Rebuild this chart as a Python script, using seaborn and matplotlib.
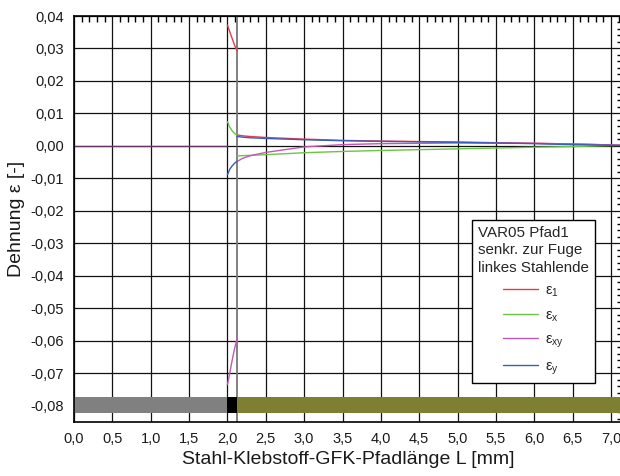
import numpy as np
import pandas as pd
import matplotlib
matplotlib.use("Agg")
import matplotlib.pyplot as plt
from matplotlib.ticker import MultipleLocator, FuncFormatter
from matplotlib.lines import Line2D
import seaborn as sns

# ---------------- data ----------------
x_steel = [0.0, 2.0]
x_adh = [2.0, 2.03, 2.06, 2.09, 2.125]
x_gfk = [2.125, 2.2, 2.3, 2.5, 3.0, 3.5, 4.0, 5.0, 6.0, 6.5, 7.0, 7.15]

e1_steel = [0.0, 0.0]
e1_adh = [0.0372, 0.0352, 0.0332, 0.0312, 0.0293]
e1_gfk = [0.0034, 0.0031, 0.0029, 0.0026, 0.0021, 0.0017, 0.0015, 0.0012, 0.0008, 0.0006, 0.0003, 0.0002]

ex_steel = [0.0, 0.0]
ex_adh = [0.0075, 0.0058, 0.0047, 0.0039, 0.0034]
ex_gfk = [-0.0031, -0.0030, -0.0029, -0.0027, -0.0021, -0.0017, -0.0014, -0.0009, -0.0004, -0.0002, 0.0001, 0.0002]

exy_steel = [0.0, 0.0]
exy_adh = [-0.0735, -0.0700, -0.0662, -0.0627, -0.0594]
exy_gfk = [-0.0048, -0.0038, -0.0030, -0.0020, -0.0003, 0.0004, 0.0007, 0.0009, 0.0008, 0.0006, 0.0003, 0.0002]

ey_steel = [0.0, 0.0]
ey_adh = [-0.0089, -0.0072, -0.0062, -0.0054, -0.0047]
ey_gfk = [0.0029, 0.0027, 0.0025, 0.0023, 0.0019, 0.0016, 0.0014, 0.0011, 0.0007, 0.0004, 0.0002, 0.0001]

series_names = ["e1", "ex", "exy", "ey"]
series_labels = ["ε$_{\\mathrm{1}}$", "ε$_{\\mathrm{x}}$", "ε$_{\\mathrm{xy}}$", "ε$_{\\mathrm{y}}$"]
series_colors = ["#e63a4c", "#6cc444", "#c058b4", "#3a5cbc"]

# material bar along the path
seg_start = [0.0, 2.0, 2.125]
seg_end = [2.0, 2.125, 7.15]
seg_colors = ["#808080", "#000000", "#7f7f33"]
bar_top = -0.0772
bar_bottom = -0.0822

x_ticks = np.arange(0.0, 7.01, 0.5)
y_ticks = np.arange(-0.08, 0.0401, 0.01)

legend_title = "VAR05 Pfad1\nsenkr. zur Fuge\nlinkes Stahlende"
x_label = "Stahl-Klebstoff-GFK-Pfadlänge L [mm]"
y_label = "Dehnung ε [-]"

# ---------------- build long table ----------------
vals = {
    "e1": (e1_steel, e1_adh, e1_gfk),
    "ex": (ex_steel, ex_adh, ex_gfk),
    "exy": (exy_steel, exy_adh, exy_gfk),
    "ey": (ey_steel, ey_adh, ey_gfk),
}
rows = []
for s in series_names:
    for reg, xs, ys in zip(["steel", "adh", "gfk"], [x_steel, x_adh, x_gfk], vals[s]):
        for xv, yv in zip(xs, ys):
            rows.append({"x": xv, "y": yv, "series": s, "region": reg})
df = pd.DataFrame(rows)

# ---------------- style ----------------
sns.set_theme(style="white")
plt.rcParams["font.family"] = ["Liberation Sans", "DejaVu Sans"]
plt.rcParams["mathtext.fontset"] = "custom"
plt.rcParams["mathtext.rm"] = "Liberation Sans"

fig = plt.figure(figsize=(6.2, 4.76), dpi=100)
W, H = 620, 476
left_px, top_px, bottom_px = 74, 16, 422
xmax = 7.15
px_per_unit = (611 - 74) / 7.0
right_px = left_px + px_per_unit * xmax
ax = fig.add_axes([left_px / W, 1 - bottom_px / H, (right_px - left_px) / W, (bottom_px - top_px) / H])

ax.set_xlim(0, xmax)
ax.set_ylim(-0.085, 0.04)

# grid
for xv in x_ticks:
    ax.axvline(xv, color="#111111", lw=0.9, zorder=1)
for yv in y_ticks:
    ax.axhline(yv, color="#111111", lw=0.9, zorder=1)
ax.axvline(seg_start[2], color="#777777", lw=1.3, zorder=1)

# material bar
for s0, s1, c in zip(seg_start, seg_end, seg_colors):
    ax.barh(y=(bar_top + bar_bottom) / 2, width=s1 - s0, left=s0,
            height=bar_top - bar_bottom, color=c, edgecolor="none", zorder=3)

# curves
palette = dict(zip(series_names, series_colors))
steel = df[df["region"] == "steel"]
rest = df[df["region"] != "steel"]
sns.lineplot(data=steel, x="x", y="y", hue="series", estimator=None,
             palette=palette, hue_order=["e1", "ex", "ey", "exy"], lw=0.8, legend=False,
             ax=ax, zorder=2, sort=False)
sns.lineplot(data=rest, x="x", y="y", hue="series", units="region", estimator=None,
             palette=palette, hue_order=series_names, lw=1.0, legend=False, ax=ax, zorder=4,
             sort=False)
ax.axhline(0, color="#111111", lw=0.6, alpha=0.6, zorder=2.5)


def yfmt(v, p):
    if abs(v) < 1e-9:
        v = 0.0
    return f"{v:.2f}".replace(".", ",")


# ticks
ax.set_xticks(x_ticks)
ax.set_yticks(y_ticks)
ax.xaxis.set_minor_locator(MultipleLocator(0.1))
ax.yaxis.set_minor_locator(MultipleLocator(0.002))
ax.xaxis.set_major_formatter(FuncFormatter(lambda v, p: f"{v:.1f}".replace(".", ",")))
ax.yaxis.set_major_formatter(FuncFormatter(yfmt))
ax.tick_params(which="both", direction="in", top=True, right=True, color="black", width=1.0)
ax.tick_params(which="major", length=0, labelsize=10.5, pad=7, labelcolor="#1a1a1a")
ax.tick_params(which="minor", length=4)
for sp in ax.spines.values():
    sp.set_color("black")
    sp.set_linewidth(1.2)
    sp.set_zorder(5)

ax.set_xlabel(x_label, fontsize=14, labelpad=4, color="#1a1a1a")
ax.set_ylabel(y_label, fontsize=14, labelpad=4, color="#1a1a1a")

# legend
handles = [Line2D([], [], color=c, lw=1.0) for c in series_colors]
leg = ax.legend(handles, series_labels, title=legend_title, loc="upper left",
                bbox_to_anchor=((472 - left_px) / (right_px - left_px), 1 - (220 - top_px) / (bottom_px - top_px)),
                fontsize=10.5, title_fontsize=10.9, frameon=True, fancybox=False,
                edgecolor="black", framealpha=1, handlelength=2.4, handletextpad=0.45,
                labelspacing=0.6, borderpad=0.42, borderaxespad=0, alignment="center")
leg.get_frame().set_linewidth(1.0)
leg.set_zorder(6)
plt.setp(leg.get_title(), multialignment="left", linespacing=1.3)

fig.savefig("out.png", dpi=100)
